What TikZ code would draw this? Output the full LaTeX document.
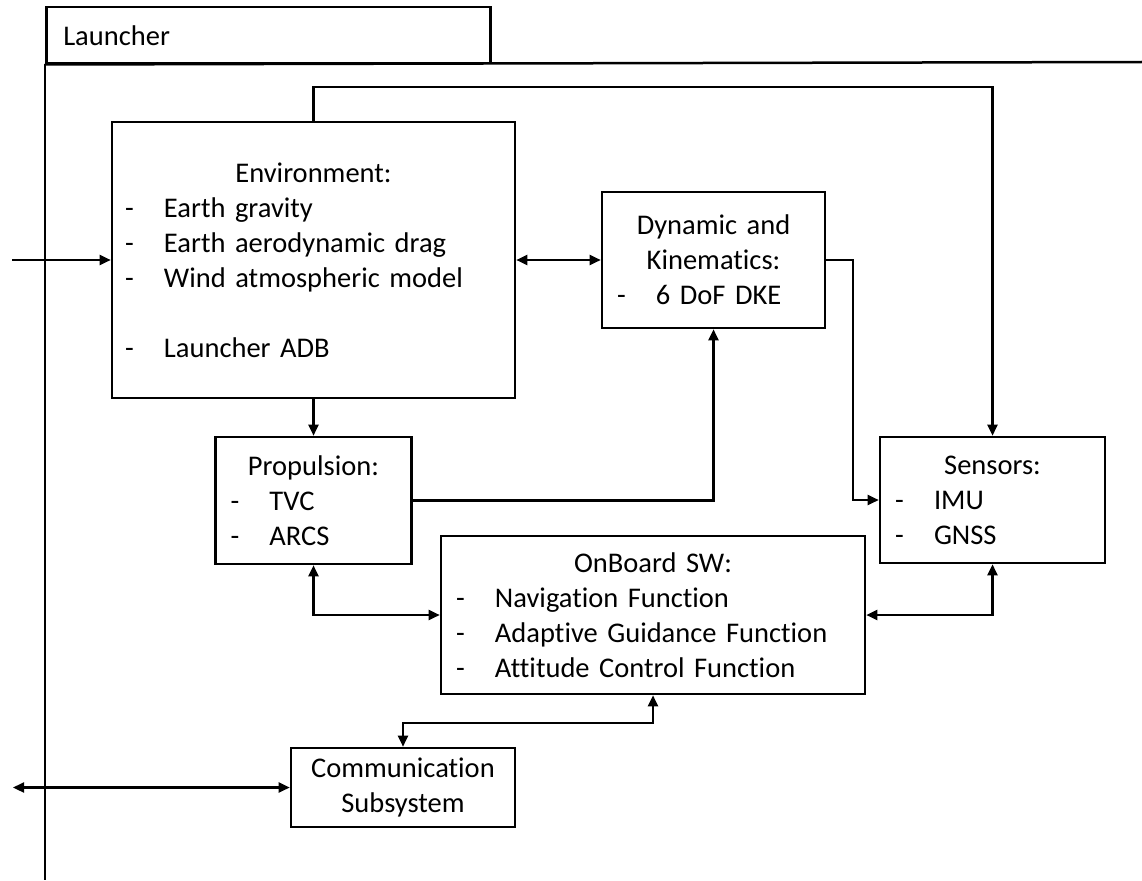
\documentclass[tikz,border=0pt]{standalone}
\usepackage{fontspec}
\setmainfont{Carlito}[Ligatures=CommonOff]
\usepackage{tikz}
\usetikzlibrary{arrows.meta,positioning,calc}

\newcommand{\itm}[1]{\makebox[\hsize][l]{\makebox[39pt][l]{-}#1}}

\begin{document}
\begin{tikzpicture}[
  x=1pt, y=-1pt,
  font=\fontsize{28.5}{35}\selectfont,
  tab/.style={
    draw,
    line width=2.5pt,
    anchor=north west,
    minimum width=444pt,
    minimum height=56pt,
    text width=410pt,
    inner xsep=17pt,
    align=left
  },
  block/.style={
    draw,
    line width=2.6pt,
    align=center,
    inner xsep=15pt,
    inner ysep=0pt
  },
  frame/.style={line width=2.5pt},
  flow/.style={-{Triangle[length=11pt,width=10pt]}, line width=2.2pt},
  both/.style={{Triangle[length=11pt,width=10pt]}-{Triangle[length=11pt,width=10pt]}, line width=2.2pt}
]
\useasboundingbox (0,0) rectangle (1142,880);

% launcher frame
\node[tab] (launcher) at (45,6) {Launcher};
\coordinate (frame-bottom) at (45,880);
\coordinate (frame-right) at (1142,62);
\draw[frame] (launcher.south west) -- (frame-bottom);
\draw[frame] (launcher.south west) -- (frame-right);

\node[block, minimum width=403pt, minimum height=276pt, text width=377pt, inner xsep=13pt] (environment) at (313.5,260)
  {Environment:\\
   \itm{Earth gravity}\\
   \itm{Earth aerodynamic drag}\\
   \itm{Wind atmospheric model}\\[35pt]
   \itm{Launcher ADB}};
\node[block, minimum width=223pt, minimum height=136pt, text width=193pt] (dynamics) at (713.5,260)
  {Dynamic and\\
   Kinematics:\\
   \itm{6 DoF DKE}};
\node[block, minimum width=196pt, minimum height=127pt, text width=166pt] (propulsion) at (313.5,500.5)
  {Propulsion:\\
   \itm{TVC}\\
   \itm{ARCS}};
\node[block, minimum width=225pt, minimum height=126pt, text width=195pt] (sensors) at (992.5,500)
  {Sensors:\\
   \itm{IMU}\\
   \itm{GNSS}};
\node[block, minimum width=424pt, minimum height=158pt, text width=394pt] (onboard-sw) at (653,615)
  {OnBoard SW:\\
   \itm{Navigation Function}\\
   \itm{Adaptive Guidance Function}\\
   \itm{Attitude Control Function}};
\node[block, minimum width=224pt, minimum height=79pt, text width=194pt] (communication) at (403,787.5)
  {Communication\\
   Subsystem};

% outside ends
\coordinate (env-in) at (12,260);
\coordinate (comm-out) at (13,787.5);

\draw[flow] (env-in) -- (environment.west);
\draw[both] (environment.east) -- (dynamics.west);
\draw[flow] (environment.north) -- ++(0,-34) -| (sensors.north);
\draw[flow] (dynamics.east) -- ++(27,0) |- (sensors.west);
\draw[flow] (environment.south) -- (propulsion.north);
\draw[flow] (propulsion.east) -| (dynamics.south);
\draw[both] (propulsion.south) |- (onboard-sw.west);
\draw[both] (sensors.south) |- (onboard-sw.east);
\draw[both] (onboard-sw.south) -- ++(0,28) -| (communication.north);
\draw[both] (communication.west) -- (comm-out);
\end{tikzpicture}
\end{document}
